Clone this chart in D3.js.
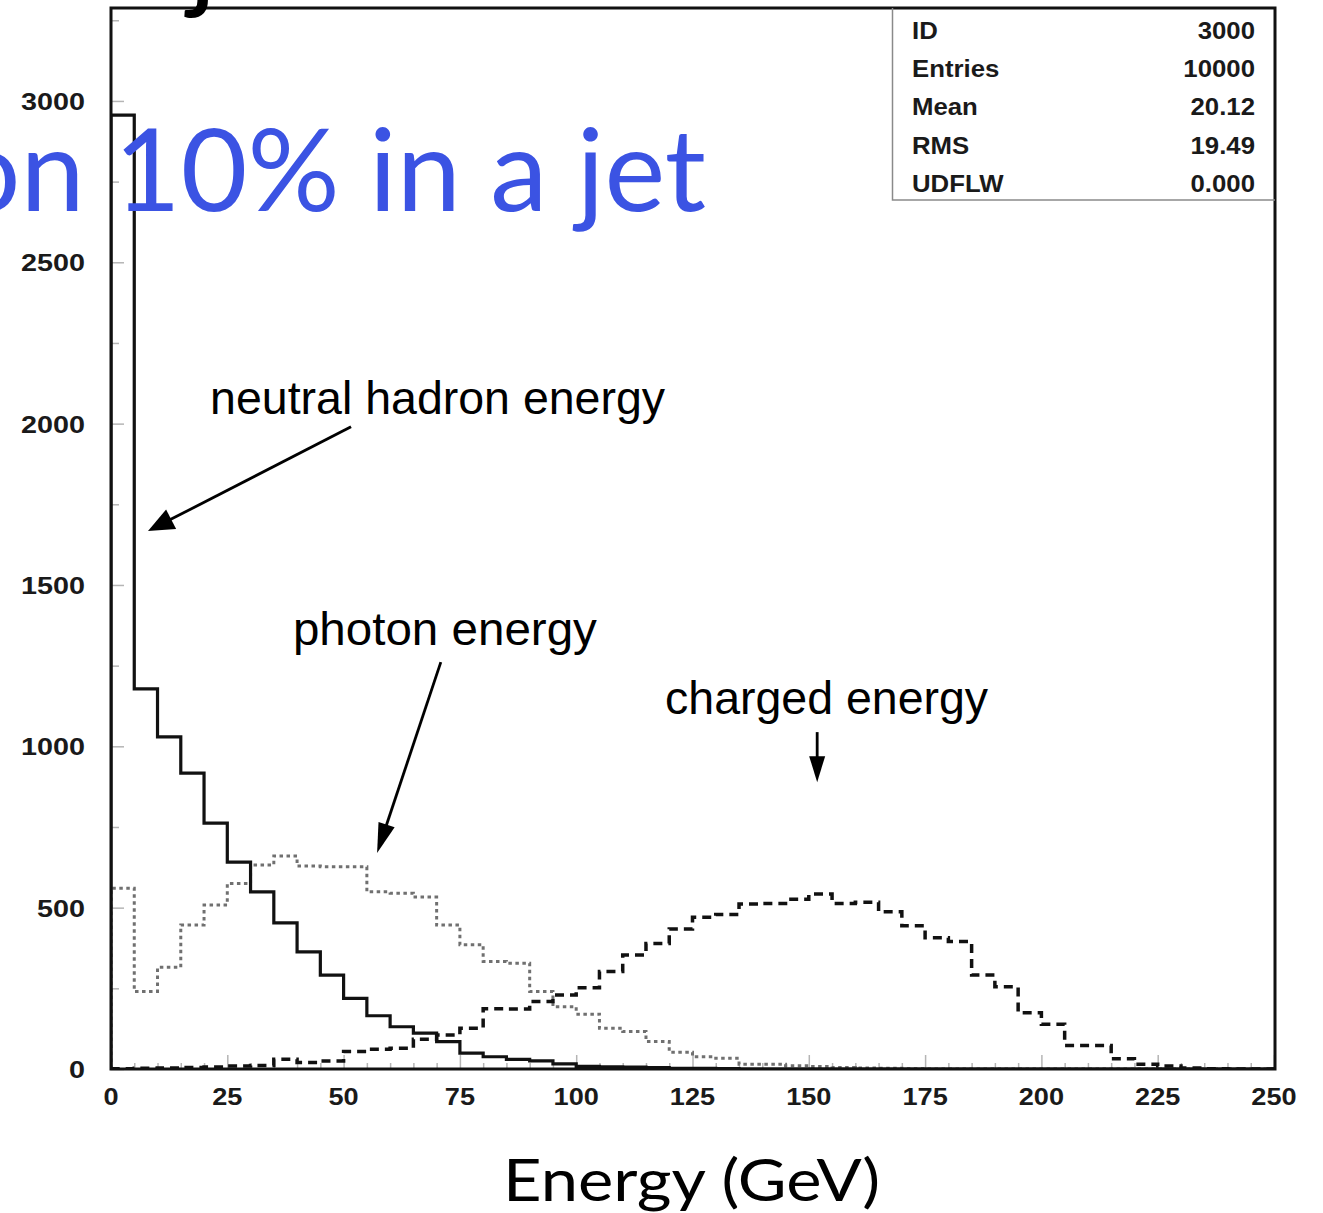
<!DOCTYPE html>
<html>
<head>
<meta charset="utf-8">
<script src="https://cdn.jsdelivr.net/npm/d3@7"></script>
<style>
  html, body { margin: 0; padding: 0; background: #fff; }
  svg { display: block; }
</style>
</head>
<body>
<svg id="chart" width="1323" height="1213"></svg>
<script>
// Histogram bins: 5 GeV wide, 0–250 GeV
const binEdges = d3.range(0, 250, 5);

// Neutral hadron energy per jet (ID 3000), solid line
const neutralCounts = [
  2956, 1178, 1029, 917, 762, 641, 549, 453, 363, 291,
  219, 165, 131, 111, 85, 49, 38, 30, 25, 16,
  8, 7, 6, 4, 2, 2, 1, 0, 0, 0,
  0, 0, 0, 0, 0, 0, 0, 0, 0, 0,
  0, 0, 0, 0, 0, 0, 0, 0, 0, 0
];

// Photon energy per jet, dotted line
const photonCounts = [
  560, 240, 315, 446, 508, 575, 632, 660, 629, 627,
  627, 549, 545, 533, 446, 385, 333, 328, 240, 193,
  170, 126, 116, 85, 52, 38, 33, 15, 15, 10,
  8, 5, 3, 2, 1, 0, 0, 0, 0, 0,
  0, 0, 0, 0, 0, 0, 0, 0, 0, 0
];

// Charged energy per jet, dashed line
const chargedCounts = [
  1, 2, 3, 5, 6, 9, 11, 30, 20, 25,
  54, 61, 64, 92, 105, 126, 187, 186, 209, 229,
  252, 302, 353, 389, 434, 470, 479, 511, 513, 526,
  542, 513, 517, 487, 444, 407, 395, 291, 255, 174,
  139, 73, 73, 32, 15, 9, 3, 1, 0, 0
];

const xTickValues = [0, 25, 50, 75, 100, 125, 150, 175, 200, 225, 250];
const yTickValues = [0, 500, 1000, 1500, 2000, 2500, 3000];

// Statistics box rows
const statLabels = ["ID", "Entries", "Mean", "RMS", "UDFLW"];
const statValues = ["3000", "10000", "20.12", "19.49", "0.000"];

// Annotation labels with arrow start / tip, in data units (GeV, counts)
const annotationText = ["neutral hadron energy", "photon energy", "charged energy"];
const annotationTextPos = [[21.3, 2030], [39.1, 1314], [119.1, 1100]];
const annotationWidth = [455, 304, 323];
const arrowFrom = [[51.6, 1990], [70.9, 1261], [151.8, 1044]];
const arrowTo = [[7.95, 1667], [57.2, 669], [151.8, 889]];

const svg = d3.select("#chart");
const plot = { left: 111, right: 1274, top: 8, bottom: 1069 };

const x = d3.scaleLinear().domain([0, 250]).range([plot.left, plot.right]);
const y = d3.scaleLinear().domain([0, 3288]).range([plot.bottom, plot.top]);

// horizontally stretch text to mimic the wide PAW lettering
function stretch(sel, sx) {
  sel.each(function () {
    const w = this.getComputedTextLength();
    this.setAttribute("textLength", w * sx);
    this.setAttribute("lengthAdjust", "spacingAndGlyphs");
  });
}

svg.append("defs").append("clipPath").attr("id", "plotClip")
  .append("rect")
  .attr("x", plot.left).attr("y", plot.top)
  .attr("width", plot.right - plot.left).attr("height", plot.bottom - plot.top);

// Axis ticks (inside the frame)
const xAxis = d3.axisTop(x)
  .tickValues(d3.range(0, 251, 5))
  .tickSizeOuter(0)
  .tickSize(0)
  .tickFormat("");
const xTicks = svg.append("g").attr("transform", `translate(0,${plot.bottom})`).call(xAxis);
xTicks.select(".domain").remove();
xTicks.selectAll(".tick line")
  .attr("y2", d => (d % 25 === 0 ? -14 : -6))
  .attr("stroke", "#b5b5b5").attr("stroke-width", 1.5);

const yAxis = d3.axisRight(y)
  .tickValues(d3.range(0, 3288, 250))
  .tickSizeOuter(0)
  .tickSize(0)
  .tickFormat("");
const yTicks = svg.append("g").attr("transform", `translate(${plot.left},0)`).call(yAxis);
yTicks.select(".domain").remove();
yTicks.selectAll(".tick line")
  .attr("x2", d => (d % 500 === 0 ? 13 : 8))
  .attr("stroke", "#b5b5b5").attr("stroke-width", 1.5);

// Histogram outlines
function histPath(counts) {
  const pts = [[0, 0]];
  counts.forEach((c, i) => pts.push([binEdges[i], c]));
  pts.push([250, counts[counts.length - 1]]);
  return d3.line().x(d => x(d[0])).y(d => y(d[1])).curve(d3.curveStepAfter)(pts);
}

const hist = svg.append("g").attr("clip-path", "url(#plotClip)");
hist.append("path")
  .attr("d", histPath(photonCounts))
  .attr("fill", "none").attr("stroke", "#707070")
  .attr("stroke-width", 3).attr("stroke-dasharray", "3.5,3.5");
hist.append("path")
  .attr("d", histPath(chargedCounts))
  .attr("fill", "none").attr("stroke", "#111")
  .attr("stroke-width", 3.5).attr("stroke-dasharray", "9,6");
hist.append("path")
  .attr("d", histPath(neutralCounts))
  .attr("fill", "none").attr("stroke", "#111")
  .attr("stroke-width", 3.2).attr("stroke-linejoin", "miter");

// Frame
svg.append("rect")
  .attr("x", plot.left).attr("y", plot.top)
  .attr("width", plot.right - plot.left + 1).attr("height", plot.bottom - plot.top)
  .attr("fill", "none").attr("stroke", "#111").attr("stroke-width", 3);

// Tick labels
const axisFont = { family: "'Liberation Sans', Arial, sans-serif", size: 23 };
const xLabels = svg.append("g").selectAll("text").data(xTickValues).join("text")
  .attr("x", d => x(d)).attr("y", 1105)
  .attr("text-anchor", "middle")
  .attr("font-family", axisFont.family).attr("font-size", axisFont.size)
  .attr("font-weight", "bold").attr("fill", "#1a1a1a")
  .text(d => d);
stretch(xLabels, 1.18);

const yLabels = svg.append("g").selectAll("text").data(yTickValues).join("text")
  .attr("x", 85).attr("y", d => y(d) + 9)
  .attr("text-anchor", "end")
  .attr("font-family", axisFont.family).attr("font-size", axisFont.size)
  .attr("font-weight", "bold").attr("fill", "#1a1a1a")
  .text(d => d);
stretch(yLabels, 1.25);

// Statistics box
const box = svg.append("g");
box.append("path")
  .attr("d", `M892.5,${plot.top} V200 H${plot.right + 1}`)
  .attr("fill", "none").attr("stroke", "#8a8a8a").attr("stroke-width", 1.5);
const statL = box.selectAll("text.lab").data(statLabels).join("text")
  .attr("class", "lab")
  .attr("x", 912).attr("y", (d, i) => 39 + i * 38.2)
  .attr("font-family", axisFont.family).attr("font-size", 23)
  .attr("font-weight", "bold").attr("fill", "#1a1a1a")
  .text(d => d);
stretch(statL, 1.12);
const statV = box.selectAll("text.val").data(statValues).join("text")
  .attr("class", "val")
  .attr("x", 1255).attr("y", (d, i) => 39 + i * 38.2)
  .attr("text-anchor", "end")
  .attr("font-family", axisFont.family).attr("font-size", 23)
  .attr("font-weight", "bold").attr("fill", "#1a1a1a")
  .text(d => d);
stretch(statV, 1.12);

// Annotations
const ann = svg.append("g");
ann.selectAll("text").data(annotationText).join("text")
  .attr("x", (d, i) => x(annotationTextPos[i][0]))
  .attr("y", (d, i) => y(annotationTextPos[i][1]))
  .attr("font-family", "'Liberation Sans', Arial, sans-serif")
  .attr("font-size", 46.5).attr("fill", "#000")
  .attr("textLength", (d, i) => annotationWidth[i])
  .attr("lengthAdjust", "spacingAndGlyphs")
  .text(d => d);

const headLen = [26, 30, 26];
const headWid = [22, 17, 16];
arrowFrom.forEach((from, i) => {
  const x0 = x(from[0]), y0 = y(from[1]);
  const x1 = x(arrowTo[i][0]), y1 = y(arrowTo[i][1]);
  const dx = x1 - x0, dy = y1 - y0, len = Math.hypot(dx, dy);
  const ux = dx / len, uy = dy / len;
  const bx = x1 - ux * headLen[i], by = y1 - uy * headLen[i];
  const px = -uy * headWid[i] / 2, py = ux * headWid[i] / 2;
  ann.append("line")
    .attr("x1", x0).attr("y1", y0).attr("x2", bx + ux * 2).attr("y2", by + uy * 2)
    .attr("stroke", "#000").attr("stroke-width", 2.8);
  ann.append("path")
    .attr("d", `M${x1},${y1} L${bx + px},${by + py} L${bx - px},${by - py} Z`)
    .attr("fill", "#000");
});

// Axis title
svg.append("text")
  .attr("x", 503).attr("y", 1201)
  .attr("font-family", "Lato, 'Open Sans', sans-serif")
  .attr("font-size", 58).attr("fill", "#000")
  .attr("textLength", 377).attr("lengthAdjust", "spacingAndGlyphs")
  .text("Energy (GeV)");

// Slide headings
svg.append("text")
  .attr("x", 372).attr("y", -3)
  .attr("text-anchor", "end")
  .attr("font-family", "Lato, 'Open Sans', sans-serif")
  .attr("font-size", 118).attr("fill", "#000")
  .text("Energy fractions in jets");

svg.append("text")
  .attr("x", 706).attr("y", 211)
  .attr("text-anchor", "end")
  .attr("font-family", "Lato, 'Open Sans', sans-serif")
  .attr("font-size", 115).attr("fill", "#3b53e3")
  .text("Neutral hadron 10% in a jet");
</script>
</body>
</html>
